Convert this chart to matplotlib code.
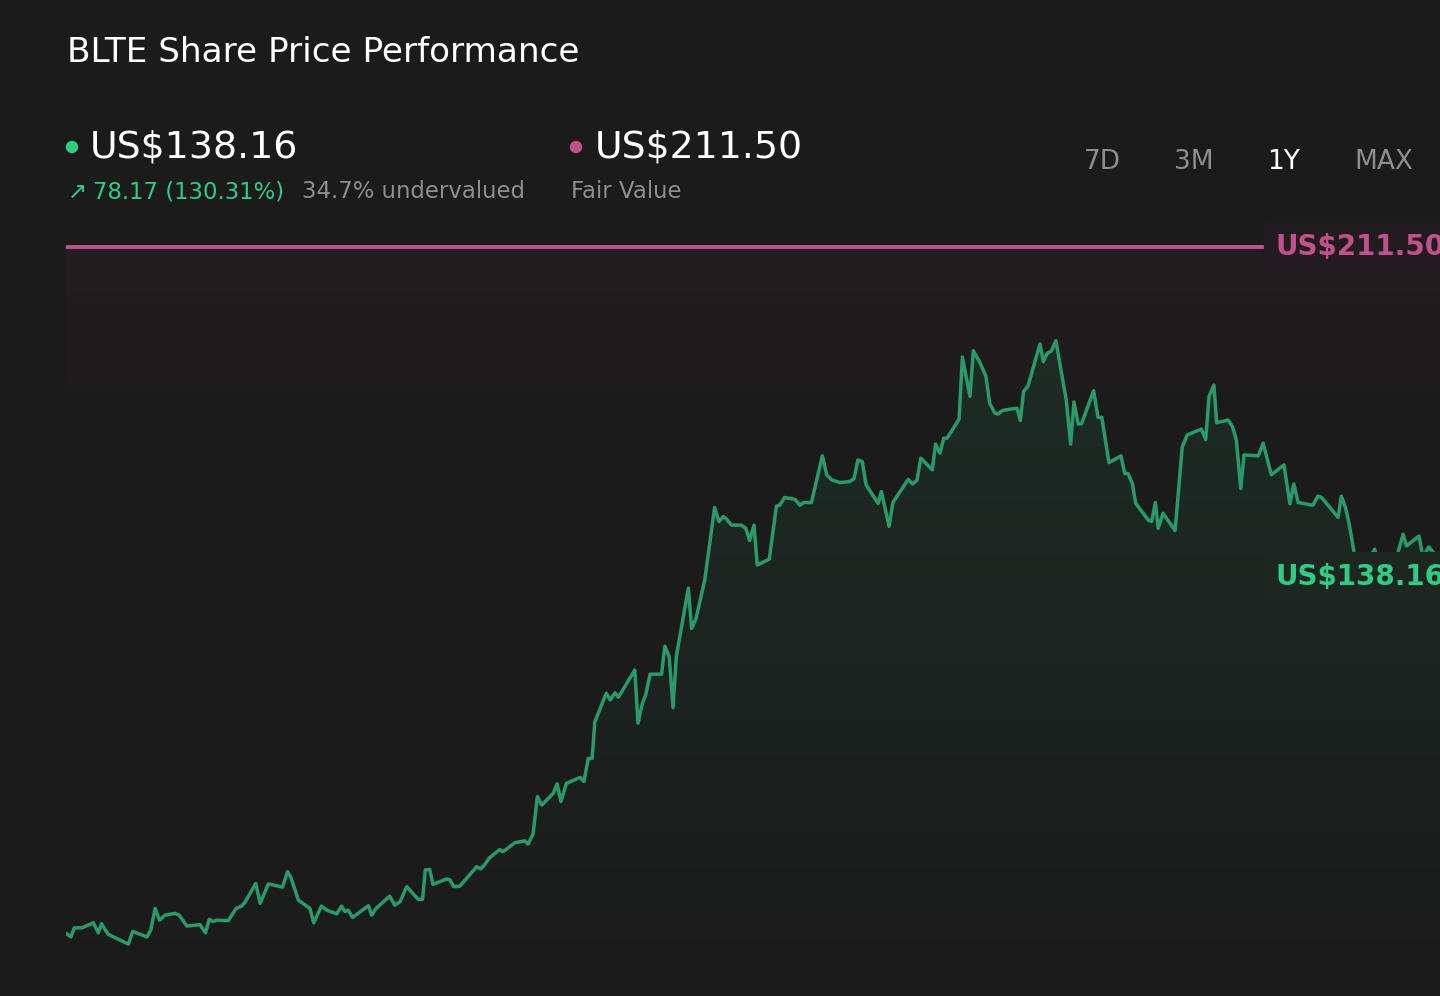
import numpy as np
import matplotlib
matplotlib.use("Agg")
import matplotlib.pyplot as plt
from matplotlib.patches import Ellipse

# Share price data (trading day offset, price in US$)
days = [0, 0.9, 1.5, 2.9, 5.0, 5.9, 6.5, 7.7, 11.4, 12.2, 14.8, 15.5, 16.3, 17.1, 18.1, 19.9,
        20.7, 22.1, 24.5, 25.5, 26.2, 26.9, 27.6, 29.7, 31.1, 32.1, 32.7, 34.7, 35.5, 37.0,
        39.6, 40.5, 41.1, 42.5, 44.6, 45.3, 46.7, 47.7, 49.5, 50.4, 51.0, 51.6, 52.4, 55.3,
        55.9, 56.7, 59.2, 60.1, 61.1, 62.3, 64.4, 65.2, 65.7, 66.5, 67.1, 69.6, 70.2, 70.9,
        72.0, 75.1, 75.8, 76.4, 77.4, 79.3, 79.9, 82.1, 83.9, 84.5, 85.4, 86.2, 87.0, 89.1,
        89.8, 90.5, 91.5, 94.0, 94.7, 95.5, 96.2, 96.7, 98.8, 99.5, 100.4, 101.0, 104.0,
        104.6, 105.4, 106.0, 106.8, 108.9, 109.5, 110.3, 111.0, 111.6, 113.8, 114.4, 115.2,
        116.8, 118.6, 119.4, 120.2, 120.8, 121.7, 123.5, 124.3, 125.0, 125.8, 126.4, 128.6,
        129.9, 130.5, 131.4, 133.3, 134.2, 134.9, 136.3, 138.3, 139.1, 140.0, 141.5, 143.3,
        144.1, 144.8, 145.6, 146.3, 148.5, 149.1, 149.7, 150.5, 151.2, 154.0, 154.8, 155.6,
        156.3, 158.4, 159.0, 159.8, 160.5, 161.1, 163.3, 163.9, 165.3, 165.9, 167.1, 168.2,
        168.9, 169.8, 170.4, 171.2, 172.6, 173.9, 174.5, 175.1, 175.9, 178.1, 178.7, 179.4,
        180.2, 181.0, 182.9, 183.7, 184.3, 185.1, 185.7, 187.9, 188.7, 189.4, 190.7, 192.9,
        193.6, 194.2, 195.0, 195.6, 197.9, 198.5, 199.2, 199.7, 200.6, 202.8, 204.1, 205.0,
        207.6, 208.4, 209.0, 209.9, 210.4, 212.5, 213.3, 214.0, 214.8, 215.4, 218.0, 218.9,
        220.4, 222.7, 223.8, 224.5, 225.3, 228.0, 228.9, 229.6, 232.6, 233.2, 234.0, 234.7,
        235.6, 237.5, 238.1, 239.3, 239.9, 243.3, 244.5, 245.1, 247.4, 248.1, 249.2, 250.6,
        252.7]
prices = [60.0, 59.2, 61.2, 61.2, 62.3, 60.1, 62.1, 59.8, 57.6, 60.4, 59.2, 60.7, 65.5, 62.9,
          64.0, 64.4, 64.0, 61.6, 61.9, 60.1, 63.1, 62.6, 62.9, 62.8, 65.5, 66.0, 66.8, 71.0,
          66.6, 70.9, 70.2, 73.6, 72.4, 67.3, 65.5, 62.3, 66.0, 65.1, 64.3, 66.0, 64.8, 65.1,
          63.5, 66.1, 64.0, 65.5, 68.2, 66.2, 67.0, 70.3, 67.5, 67.5, 74.0, 74.1, 70.8, 72.0,
          71.8, 70.3, 70.4, 74.7, 74.2, 74.9, 76.6, 78.5, 78.0, 80.0, 80.4, 79.7, 81.9, 90.2,
          88.3, 90.9, 93.0, 89.1, 93.1, 94.4, 93.5, 98.6, 98.6, 106.7, 113.0, 111.5, 113.1,
          112.1, 118.1, 106.4, 110.8, 112.6, 117.2, 117.2, 123.4, 121.0, 109.8, 121.1, 136.2,
          127.3, 129.5, 138.0, 154.0, 150.9, 152.0, 151.4, 150.1, 150.1, 149.4, 146.7, 150.1,
          141.3, 142.6, 154.3, 154.5, 156.2, 155.8, 154.5, 155.1, 155.1, 165.4, 161.2, 160.1,
          159.5, 159.7, 160.4, 164.5, 164.1, 159.0, 154.9, 157.5, 154.2, 149.8, 155.1, 160.2,
          159.2, 160.0, 164.9, 162.3, 168.0, 166.0, 169.3, 169.3, 173.5, 187.2, 178.5, 188.6,
          186.0, 183.0, 177.0, 174.9, 174.6, 175.4, 175.7, 175.9, 173.2, 179.6, 180.8, 190.1,
          186.2, 188.0, 188.6, 190.8, 177.7, 168.0, 177.3, 172.4, 172.5, 179.8, 173.9, 173.9,
          163.9, 165.4, 161.5, 161.5, 159.2, 154.9, 151.2, 150.9, 155.1, 149.4, 152.7, 148.9,
          167.3, 170.0, 171.3, 169.0, 178.5, 181.0, 172.7, 173.3, 171.8, 168.9, 158.2, 165.6,
          165.4, 168.2, 161.2, 163.4, 154.8, 159.2, 155.1, 154.5, 156.5, 156.2, 151.8, 156.5,
          153.8, 149.9, 143.5, 143.5, 142.4, 144.8, 142.4, 143.0, 148.1, 145.5, 147.7, 143.1,
          145.3, 143.1, 138.16]

fair_value = 211.50
last_price = 138.16
change = 78.17
change_pct = 130.31
undervalued = 34.7
periods = ["7D", "3M", "1Y", "MAX"]
active_period = "1Y"

BG = "#1b1b1b"
GREEN_LINE = "#2a9a68"
GREEN_TXT = "#2fcc84"
PINK = "#c2508c"
GREY = "#8e8e8e"

W, H = 1440, 996
fig = plt.figure(figsize=(W / 100, H / 100), dpi=100, facecolor=BG)


def fx(px):
    return px / W


def fy(py):
    return 1 - py / H


# chart axes: top at fair value line, extends past right edge
ax = fig.add_axes([fx(66), 0, (1448 - 66) / W, (H - 247) / H])
ax.set_facecolor(BG)
ymin = fair_value - (H - 247) / 4.53
ax.set_xlim(0, days[-1])
ax.set_ylim(ymin, fair_value)
ax.axis("off")

# faint pink glow under fair value line
pink_rgb = matplotlib.colors.to_rgb(PINK)
grad = np.zeros((256, 2, 4))
grad[..., :3] = pink_rgb
grad[..., 3] = np.linspace(0.055, 0.0, 256)[:, None] ** 1.0
ax.imshow(grad, extent=[0, days[-1], fair_value - 45, fair_value], aspect="auto",
          origin="upper", zorder=1, interpolation="bilinear")

# green gradient under price line
green_rgb = matplotlib.colors.to_rgb(GREEN_LINE)
ggrad = np.zeros((256, 2, 4))
ggrad[..., :3] = green_rgb
ggrad[..., 3] = np.linspace(0.14, 0.0, 256)[:, None]
poly = ax.fill_between(days, prices, ymin, color="none", lw=0)
img = ax.imshow(ggrad, extent=[0, days[-1], ymin, max(prices)], aspect="auto",
                origin="upper", zorder=2, interpolation="bilinear")
img.set_clip_path(poly.get_paths()[0], transform=ax.transData)

ax.plot(days, prices, color=GREEN_LINE, lw=2.5, zorder=3)

# fair value line up to its label
fv_end = (1265 - 66) / (1448 - 66) * days[-1]
ax.plot([0, fv_end], [fair_value, fair_value], color=PINK, lw=2.8, zorder=4,
        clip_on=False, solid_capstyle="butt")

# price labels on the right
fig.text(fx(1275), fy(247), f"US${fair_value:.2f}", color=PINK, fontsize=20,
         fontweight="bold", va="center", ha="left", zorder=10,
         bbox=dict(boxstyle="round,pad=0.4,rounding_size=0.3", fc="#221b1f", ec="none"))
fig.text(fx(1275), fy(577), f"US${last_price:.2f}", color=GREEN_TXT, fontsize=20,
         fontweight="bold", va="center", ha="left", zorder=10,
         bbox=dict(boxstyle="round,pad=0.4,rounding_size=0.3", fc="#1e2621", ec="none"))

# header
fig.text(fx(67), fy(53), "BLTE Share Price Performance", color="white", fontsize=24.7,
         va="center", ha="left")

fig.add_artist(Ellipse((fx(72), fy(147)), 11 / W, 11 / H, color=GREEN_TXT,
                       transform=fig.transFigure))
fig.text(fx(90), fy(147), f"US${last_price:.2f}", color="white", fontsize=27.3,
         va="center", ha="left")
fig.text(fx(68), fy(192), "\u2197", color=GREEN_TXT, fontsize=16.4, va="center", ha="left")
fig.text(fx(93), fy(192), f"{change:.2f} ({change_pct:.2f}%)", color=GREEN_TXT,
         fontsize=16.4, va="center", ha="left")
fig.text(fx(302), fy(192), f"{undervalued}% undervalued", color=GREY, fontsize=16.4,
         va="center", ha="left")

fig.add_artist(Ellipse((fx(576), fy(147)), 11 / W, 11 / H, color=PINK,
                       transform=fig.transFigure))
fig.text(fx(595), fy(147), f"US${fair_value:.2f}", color="white", fontsize=27.3,
         va="center", ha="left")
fig.text(fx(571), fy(192), "Fair Value", color=GREY, fontsize=16.4, va="center", ha="left")

period_x = [1102, 1194, 1284, 1384]
for label, px in zip(periods, period_x):
    fig.text(fx(px), fy(162), label, color="white" if label == active_period else GREY,
             fontsize=19, va="center", ha="center")

fig.savefig("out.png", dpi=100, facecolor=BG)
